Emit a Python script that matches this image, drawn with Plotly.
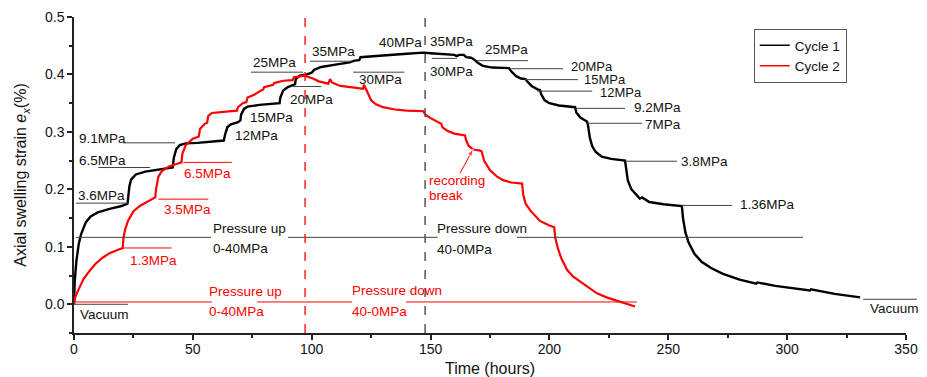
import plotly.graph_objects as go

# ---- data ----
c1_t = [0, 0.3, 1, 2, 3, 5, 7, 10, 15, 20, 22.5, 22.8, 23.3, 24, 26, 30, 35, 40, 41.5, 42, 43, 44.5, 47, 52, 58, 63,
        63.6, 64.5, 66, 69, 70, 70.3, 71.5, 73, 78, 83, 86.5, 86.8, 88, 90, 93, 93.3, 95, 98, 100, 101, 104, 110, 116,
        118, 120, 120.5, 125, 130, 140, 147, 150, 155, 160, 161, 162, 164, 165, 167, 168, 170, 172, 176, 183, 184, 186,
        188, 190, 190.6, 192.5, 195, 196, 196.5, 198, 200, 204, 210.8, 211.3, 213, 215.8, 216.2, 217, 218, 219.5, 222,
        226, 231.8, 232.2, 233, 234.5, 236.5, 238, 239, 242, 248, 255.7, 256.2, 257.2, 258.5, 261, 264, 268, 273, 280,
        287, 287.5, 295, 303, 309.6, 310, 320, 330.7]
c1_y = [0, 0.04, 0.075, 0.105, 0.122, 0.143, 0.153, 0.16, 0.166, 0.171, 0.175, 0.19, 0.205, 0.217, 0.226, 0.231, 0.234,
        0.236, 0.238, 0.255, 0.27, 0.277, 0.28, 0.281, 0.283, 0.285, 0.296, 0.308, 0.313, 0.317, 0.32, 0.33, 0.34,
        0.344, 0.347, 0.349, 0.35, 0.36, 0.372, 0.378, 0.383, 0.392, 0.398, 0.4, 0.403, 0.408, 0.413, 0.417, 0.421,
        0.424, 0.425, 0.43, 0.431, 0.433, 0.436, 0.438, 0.437, 0.436, 0.434, 0.432, 0.434, 0.434, 0.43, 0.429, 0.427,
        0.42, 0.415, 0.412, 0.411, 0.405, 0.397, 0.393, 0.392, 0.388, 0.38, 0.374, 0.373, 0.366, 0.355, 0.35, 0.346,
        0.343, 0.334, 0.325, 0.318, 0.312, 0.29, 0.275, 0.265, 0.257, 0.253, 0.25, 0.235, 0.215, 0.2, 0.19, 0.184,
        0.186, 0.178, 0.174, 0.171, 0.15, 0.125, 0.108, 0.088, 0.074, 0.063, 0.053, 0.043, 0.036, 0.038, 0.032, 0.027,
        0.024, 0.026, 0.018, 0.012]

c2_t = [0, 0.5, 1.5, 2.5, 4, 6.7, 9, 12, 15, 18, 20.5, 20.8, 21.5, 22.7, 25, 28, 31, 33.5, 34.2, 34.5, 35.5, 37, 40,
        43.8, 45.2, 45.6, 47, 50, 52.5, 53, 55, 56, 56.5, 58, 63, 68.5, 69, 71, 72.5, 73, 76, 77, 79.6, 80, 83.8, 84.2,
        88, 92, 92.5, 95, 97, 100.5, 103, 107, 107.7, 108.5, 112, 118, 121.6, 122, 123, 125, 127, 130, 135, 140, 147,
        147.8, 150, 153, 154.5, 155, 157, 160, 164.5, 165, 166, 167.4, 168.5, 170.5, 171.5, 172.5, 175, 178, 180.5,
        184, 188.5, 189, 190, 192, 193, 193.4, 196, 200, 202, 202.5, 203.5, 205, 207.4, 210, 214.2, 217, 220, 224,
        229.7, 233, 236]
c2_y = [0, 0.012, 0.022, 0.031, 0.044, 0.059, 0.07, 0.081, 0.089, 0.094, 0.098, 0.115, 0.13, 0.145, 0.162, 0.172,
        0.179, 0.184, 0.186, 0.2, 0.222, 0.232, 0.24, 0.245, 0.247, 0.262, 0.277, 0.288, 0.292, 0.305, 0.314, 0.316,
        0.328, 0.333, 0.335, 0.337, 0.343, 0.35, 0.352, 0.36, 0.365, 0.368, 0.374, 0.378, 0.382, 0.385, 0.389, 0.39,
        0.395, 0.397, 0.398, 0.393, 0.388, 0.384, 0.392, 0.386, 0.38, 0.377, 0.375, 0.382, 0.372, 0.355, 0.348, 0.343,
        0.339, 0.337, 0.336, 0.33, 0.324, 0.317, 0.314, 0.308, 0.302, 0.297, 0.294, 0.285, 0.276, 0.271, 0.269, 0.268,
        0.266, 0.25, 0.233, 0.222, 0.216, 0.212, 0.21, 0.19, 0.175, 0.163, 0.158, 0.156, 0.145, 0.137, 0.134, 0.115,
        0.098, 0.08, 0.06, 0.048, 0.036, 0.027, 0.019, 0.012, 0.004, 0.0, -0.004]

series_names = ["Cycle 1", "Cycle 2"]

# pressure-level guide lines: (x0, x1, y)
black_lines = [(0, 22.7, 0.0), (0.8, 22.7, 0.176), (10.3, 32, 0.238), (20.7, 42.5, 0.281), (92, 104, 0.379),
               (74.4, 96.4, 0.404), (99.3, 117, 0.423), (117.4, 139, 0.404), (150.6, 161, 0.428), (169.5, 191, 0.424),
               (184, 205.7, 0.41), (189.7, 212, 0.391), (194.8, 218, 0.371), (210.8, 231.8, 0.341),
               (216, 239, 0.315), (231.8, 253.7, 0.249), (255.8, 276.8, 0.172),
               (0.8, 57.6, 0.1165), (90, 153, 0.1165), (186.4, 306.7, 0.1165)]
black_lines_outside = [(332, 354.6, 0.0087)]
red_lines = [(20.7, 41, 0.098), (35.5, 56.5, 0.183), (46, 66.4, 0.247),
             (0, 58, 0.004), (77, 117, 0.004), (139.7, 236.8, 0.004)]

# labels: (text, x, y, xanchor, size)
black_labels = [("Vacuum", 13, -0.017, "center", 13.5), ("3.6MPa", 0.8, 0.19, "left", 13.5),
                ("6.5MPa", 1.3, 0.25, "left", 13.5), ("9.1MPa", 1.3, 0.289, "left", 13.5),
                ("12MPa", 66.9, 0.294, "left", 13.5), ("15MPa", 73.2, 0.325, "left", 13.5),
                ("20MPa", 90, 0.357, "left", 13.5), ("25MPa", 74.5, 0.421, "left", 13.5),
                ("35MPa", 99.3, 0.44, "left", 13.5), ("30MPa", 119, 0.391, "left", 13.5),
                ("40MPa", 127.5, 0.456, "left", 13.5), ("35MPa", 149, 0.457, "left", 13.5),
                ("30MPa", 149, 0.405, "left", 13.5), ("25MPa", 172, 0.443, "left", 13.5),
                ("20MPa", 208.2, 0.413, "left", 13), ("15MPa", 213.7, 0.391, "left", 13),
                ("12MPa", 220.4, 0.369, "left", 13), ("9.2MPa", 234.7, 0.343, "left", 13.5),
                ("7MPa", 239.4, 0.313, "left", 13.5), ("3.8MPa", 254.5, 0.249, "left", 13.5),
                ("1.36MPa", 279.3, 0.174, "left", 13.5),
                ("Pressure up", 57.6, 0.132, "left", 13.5), ("0-40MPa", 57.6, 0.097, "left", 13.5),
                ("Pressure down", 151.9, 0.132, "left", 13.5), ("40-0MPa", 151.9, 0.096, "left", 13.5),
                ("Vacuum", 345, -0.007, "center", 13.5)]
red_labels = [("1.3MPa", 22.7, 0.077, "left", 13.5), ("3.5MPa", 37, 0.165, "left", 13.5),
              ("6.5MPa", 45.4, 0.228, "left", 13.5),
              ("Pressure up", 56, 0.0226, "left", 13.5), ("0-40MPa", 56, -0.012, "left", 13.5),
              ("Pressure down", 116.1, 0.024, "left", 13.5), ("40-0MPa", 116.1, -0.012, "left", 13.5),
              ("recording", 148.5, 0.216, "left", 13.5), ("break", 148.5, 0.19, "left", 13.5)]
arrow_x = [162.4, 168]
arrow_y = [0.228, 0.271]

cycle_bounds = [97.2, 147.7]  # dashed vertical markers
x_range = [0, 350]
y_range = [-0.05, 0.5]

FONT = "Liberation Sans, Arial, sans-serif"
BLACK = "#000000"
RED = "#ff0000"
GUIDE = "#404040"

fig = go.Figure()
fig.add_trace(go.Scatter(x=c1_t, y=c1_y, mode="lines", name=series_names[0], showlegend=False,
                         line=dict(color=BLACK, width=2.4)))
fig.add_trace(go.Scatter(x=c2_t, y=c2_y, mode="lines", name=series_names[1], showlegend=False,
                         line=dict(color=RED, width=2.2)))
# legend entries drawn with thin sample lines
fig.add_trace(go.Scatter(x=[None], y=[None], mode="lines", name=series_names[0],
                         line=dict(color=BLACK, width=1.5)))
fig.add_trace(go.Scatter(x=[None], y=[None], mode="lines", name=series_names[1],
                         line=dict(color=RED, width=1.5)))
# "recording break" arrow
fig.add_trace(go.Scatter(x=arrow_x, y=arrow_y, mode="lines+markers", showlegend=False, hoverinfo="skip",
                         line=dict(color=RED, width=1),
                         marker=dict(symbol="arrow", size=[0, 8], angleref="previous", color=RED)))

shapes = []
for x0, x1, y in black_lines:
    shapes.append(dict(type="line", xref="x", yref="y", x0=x0, x1=x1, y0=y, y1=y,
                       line=dict(color=GUIDE, width=1)))
for x0, x1, y in black_lines_outside:
    shapes.append(dict(type="line", xref="paper", yref="y",
                       x0=(x0 - x_range[0]) / (x_range[1] - x_range[0]),
                       x1=(x1 - x_range[0]) / (x_range[1] - x_range[0]), y0=y, y1=y,
                       line=dict(color=GUIDE, width=1)))
for x0, x1, y in red_lines:
    shapes.append(dict(type="line", xref="x", yref="y", x0=x0, x1=x1, y0=y, y1=y,
                       line=dict(color=RED, width=1)))
shapes.append(dict(type="line", xref="x", yref="y", x0=cycle_bounds[0], x1=cycle_bounds[0],
                   y0=y_range[0], y1=y_range[1], line=dict(color=RED, width=1.3, dash="dash")))
shapes.append(dict(type="line", xref="x", yref="y", x0=cycle_bounds[1], x1=cycle_bounds[1],
                   y0=y_range[0], y1=y_range[1], line=dict(color="#555555", width=1.5, dash="dash")))

annotations = []
for txt, x, y, xa, sz in black_labels:
    annotations.append(dict(text=txt, x=x, y=y, xref="x", yref="y", xanchor=xa, yanchor="middle",
                            showarrow=False, font=dict(family=FONT, size=sz, color="#111111")))
for txt, x, y, xa, sz in red_labels:
    annotations.append(dict(text=txt, x=x, y=y, xref="x", yref="y", xanchor=xa, yanchor="middle",
                            showarrow=False, font=dict(family=FONT, size=sz, color=RED)))

fig.update_layout(
    width=927, height=377,
    margin=dict(l=74, r=21, t=17, b=44),
    paper_bgcolor="white", plot_bgcolor="white",
    font=dict(family=FONT, size=14, color="#111111"),
    shapes=shapes, annotations=annotations,
    showlegend=True,
    legend=dict(x=0.817, y=0.962, xanchor="left", yanchor="top", bgcolor="white",
                bordercolor="#555555", borderwidth=1, font=dict(family=FONT, size=13.5),
                tracegroupgap=0, itemwidth=30),
)
fig.update_xaxes(range=x_range, dtick=50, ticks="outside", ticklen=5, tickwidth=1.5, tickcolor="#222",
                 showline=True, linecolor="#222", linewidth=1.5, showgrid=False, zeroline=False, automargin=False,
                 minor=dict(dtick=25, ticks="outside", ticklen=3, tickwidth=1.5, tickcolor="#222"),
                 title=dict(text="Time (hours)", font=dict(family=FONT, size=16), standoff=8),
                 tickfont=dict(family=FONT, size=14), ticklabelstandoff=-3)
fig.update_yaxes(range=y_range, tickvals=[0, 0.1, 0.2, 0.3, 0.4, 0.5], tickformat=".1f",
                 ticks="outside", ticklen=5, tickwidth=1.5, tickcolor="#222",
                 showline=True, linecolor="#222", linewidth=1.5, showgrid=False, zeroline=False, automargin=False,
                 minor=dict(dtick=0.05, ticks="outside", ticklen=3, tickwidth=1.5, tickcolor="#222"),
                 title=dict(text="Axial swelling strain <i>e</i><sub><i>x</i></sub>(%)",
                            font=dict(family=FONT, size=16), standoff=14),
                 tickfont=dict(family=FONT, size=14))

fig.write_html("out.html")
